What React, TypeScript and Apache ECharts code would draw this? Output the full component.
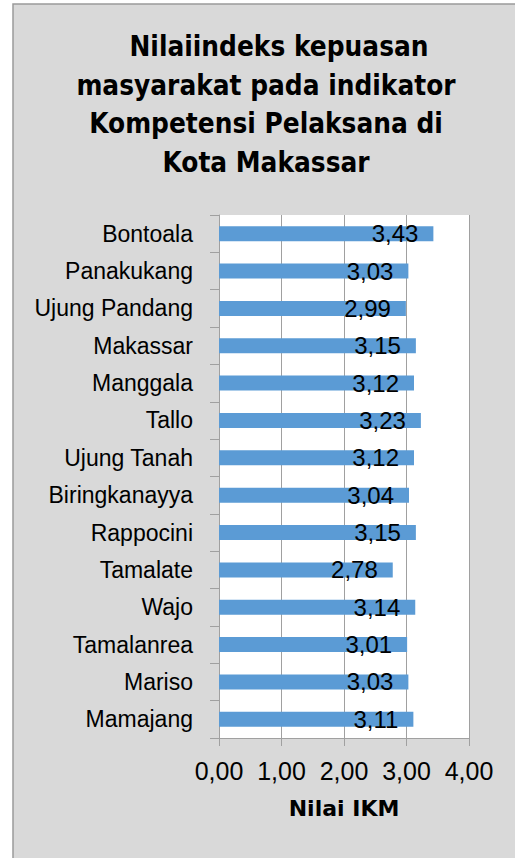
import React, { useEffect, useRef } from "react";
import * as echarts from "echarts";

const categories = [
  "Bontoala",
  "Panakukang",
  "Ujung Pandang",
  "Makassar",
  "Manggala",
  "Tallo",
  "Ujung Tanah",
  "Biringkanayya",
  "Rappocini",
  "Tamalate",
  "Wajo",
  "Tamalanrea",
  "Mariso",
  "Mamajang",
];
const values = [3.43, 3.03, 2.99, 3.15, 3.12, 3.23, 3.12, 3.04, 3.15, 2.78, 3.14, 3.01, 3.03, 3.11];
const xMin = 0;
const xMax = 4;
const xInterval = 1;
const titleLines = ["Nilaiindeks kepuasan", "masyarakat pada indikator", "Kompetensi Pelaksana di", "Kota Makassar"];
const axisName = "Nilai IKM";

const fmt = (v: number) => v.toFixed(2).replace(".", ",");

export default function App() {
  const ref = useRef<HTMLDivElement>(null);
  useEffect(() => {
    if (!ref.current) return;
    const chart = echarts.init(ref.current, undefined, { renderer: "svg" });
    const titleFont = "bold 29px 'DejaVu Sans', sans-serif";
    const titleGraphics = titleLines.map((t, i) => ({
      type: "text",
      x: i === 0 ? 279 : 266,
      y: 46 + i * 38.6,
      scaleX: 0.86,
      silent: true,
      z: 10,
      style: {
        text: t,
        font: titleFont,
        fill: "#000000",
        textAlign: "center",
        textVerticalAlign: "middle",
      },
    }));
    chart.setOption({
      animation: false,
      backgroundColor: "#ffffff",
      graphic: [
        {
          type: "rect",
          z: -100,
          silent: true,
          shape: { x: 13, y: 4, width: 600, height: 900 },
          style: { fill: "#d9d9d9", stroke: "#9a9a9a", lineWidth: 1.5 },
        },
        ...titleGraphics,
      ],
      grid: {
        left: 219,
        right: 46,
        top: 215,
        bottom: 120,
        show: true,
        backgroundColor: "#ffffff",
        borderWidth: 0,
        containLabel: false,
      },
      xAxis: {
        type: "value",
        min: xMin,
        max: xMax,
        interval: xInterval,
        name: axisName,
        nameLocation: "middle",
        nameGap: 59,
        nameTextStyle: {
          fontFamily: "'DejaVu Sans', sans-serif",
          fontWeight: "bold",
          fontSize: 22,
          color: "#000000",
          verticalAlign: "top",
        },
        axisLine: { show: true, lineStyle: { color: "#a0a0a0", width: 1 } },
        axisTick: { show: true, length: 8, lineStyle: { color: "#a0a0a0" } },
        axisLabel: {
          formatter: (v: number) => fmt(v),
          fontFamily: "'Liberation Sans', Arial, sans-serif",
          fontSize: 25,
          color: "#000000",
          margin: 20,
        },
        splitLine: { show: true, lineStyle: { color: "#a0a0a0", width: 1 } },
      },
      yAxis: {
        type: "category",
        data: categories,
        inverse: true,
        axisLine: { show: true, lineStyle: { color: "#a0a0a0", width: 1 } },
        axisTick: { show: true, length: 9, alignWithLabel: false, lineStyle: { color: "#a0a0a0" } },
        axisLabel: {
          fontFamily: "'Liberation Sans', Arial, sans-serif",
          fontSize: 23,
          color: "#000000",
          margin: 26,
        },
        splitLine: { show: false },
      },
      series: [
        {
          type: "bar",
          data: values,
          barWidth: 15,
          itemStyle: { color: "#5b9bd5" },
          label: {
            show: true,
            position: "insideRight",
            distance: 15,
            formatter: (p: any) => fmt(p.value),
            fontFamily: "'Liberation Sans', Arial, sans-serif",
            fontSize: 24,
            color: "#000000",
          },
        },
      ],
    });
    return () => chart.dispose();
  }, []);
  return (
    <div
      ref={ref}
      style={{ position: "fixed", left: 0, top: 0, width: 515, height: 858 }}
    />
  );
}
